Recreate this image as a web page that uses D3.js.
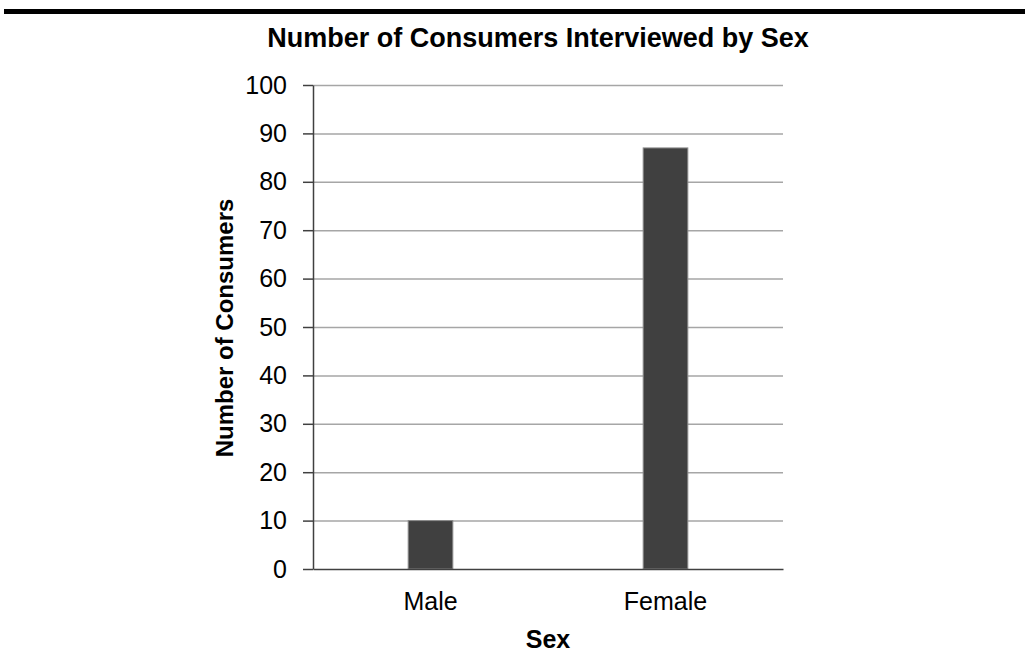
<!DOCTYPE html>
<html>
<head>
<meta charset="utf-8">
<script src="https://cdn.jsdelivr.net/npm/d3@7"></script>
<style>
  body { margin: 0; background: #fff; }
  svg text { font-family: "Liberation Sans", Arial, sans-serif; fill: #000; }
  .grid line { stroke: #a6a6a6; stroke-width: 1.5; }
  .grid path { display: none; }
  .y-axis path, .y-axis line, .x-axis path { stroke: #404040; stroke-width: 1.5; }
  .x-axis line { display: none; }
  .bar { fill: #404040; stroke: #8c8c8c; stroke-width: 1; }
</style>
</head>
<body>
<script>
// Data
var categories = ["Male", "Female"];
var values = [10, 87];
var yTicks = [0, 10, 20, 30, 40, 50, 60, 70, 80, 90, 100];

var data = categories.map(function(c, i) { return { name: c, value: values[i] }; });

// Set Margin
var margin = { top: 85, right: 242, bottom: 99, left: 313 },
    width = 1025 - margin.left - margin.right,
    height = 668 - margin.top - margin.bottom;

var svgRoot = d3.select("body").append("svg")
    .attr("width", 1025)
    .attr("height", 668);

// Heavy rule across the top of the page
svgRoot.append("rect")
    .attr("x", 4).attr("y", 9)
    .attr("width", 1021).attr("height", 5)
    .attr("fill", "#000");

// Title
svgRoot.append("text")
    .attr("x", 538)
    .attr("y", 47)
    .attr("text-anchor", "middle")
    .style("font-size", "27px")
    .style("font-weight", "bold")
    .text("Number of Consumers Interviewed by Sex");

var svg = svgRoot.append("g")
    .attr("transform", "translate(" + margin.left + "," + margin.top + ")");

// Set Range
var x = d3.scaleBand()
    .domain(categories)
    .range([0, width])
    .paddingInner(0.81)
    .paddingOuter(0.405);
var y = d3.scaleLinear()
    .domain([0, 100])
    .range([height, 0]);

// Gridlines
svg.append("g")
    .attr("class", "grid")
    .call(d3.axisLeft(y).tickValues(yTicks.slice(1)).tickSize(-width).tickFormat(""));

// Bars
svg.selectAll(".bar")
    .data(data)
    .enter().append("rect")
    .attr("class", "bar")
    .attr("x", function(d) { return x(d.name); })
    .attr("width", x.bandwidth())
    .attr("y", function(d) { return y(d.value); })
    .attr("height", function(d) { return height - y(d.value); });

// Y axis
svg.append("g")
    .attr("class", "y-axis")
    .call(d3.axisLeft(y).tickValues(yTicks).tickSize(10).tickPadding(16).tickSizeOuter(0))
    .selectAll("text")
    .style("font-size", "25px");

// X axis
svg.append("g")
    .attr("class", "x-axis")
    .attr("transform", "translate(0," + height + ")")
    .call(d3.axisBottom(x).tickSize(0).tickPadding(23).tickSizeOuter(0))
    .selectAll("text")
    .style("font-size", "25px");

// Axis titles
svgRoot.append("text")
    .attr("x", 548)
    .attr("y", 648)
    .attr("text-anchor", "middle")
    .style("font-size", "25px")
    .style("font-weight", "bold")
    .text("Sex");

svgRoot.append("text")
    .attr("transform", "translate(233,328) rotate(-90)")
    .attr("text-anchor", "middle")
    .style("font-size", "24px")
    .style("font-weight", "bold")
    .text("Number of Consumers");
</script>
</body>
</html>
